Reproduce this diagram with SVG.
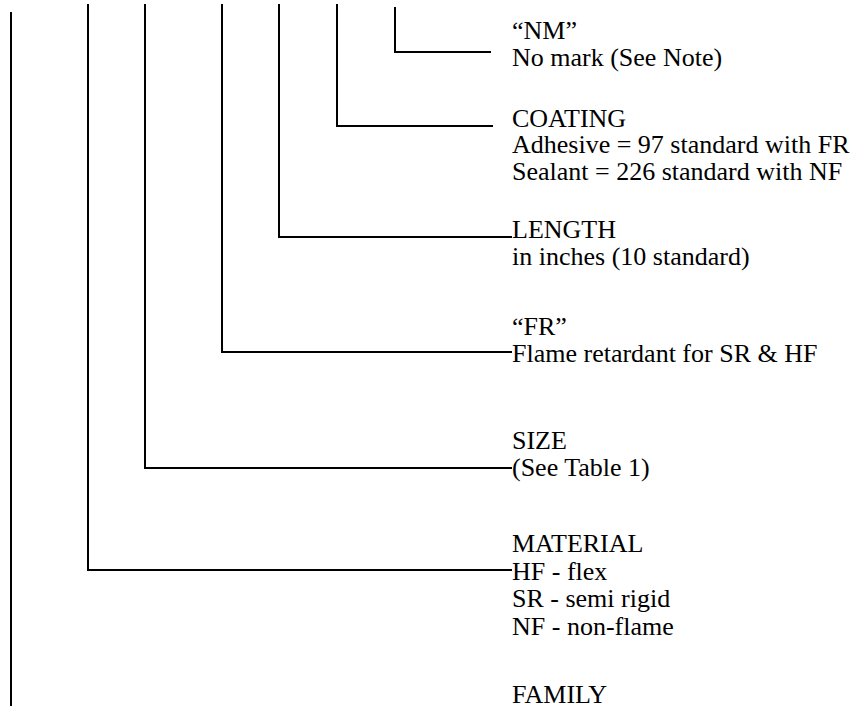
<svg xmlns="http://www.w3.org/2000/svg" width="856" height="706" viewBox="0 0 856 706">
<style>
.c{fill:none;stroke:#000;stroke-width:2}
.t{font-family:'Liberation Serif','Times New Roman','DejaVu Serif',serif;font-size:26px;fill:#000}
</style>
<rect width="856" height="706" fill="#fff"/>
<g id="connectors">
<path class="c" d="M11 12V706"/>
<path class="c" d="M88 4V570H512"/>
<path class="c" d="M145 4V468H512"/>
<path class="c" d="M222 4V352H512"/>
<path class="c" d="M279 4V237H512"/>
<path class="c" d="M337 4V126H493"/>
<path class="c" d="M395 7V52H491"/>
</g>
<g class="t" font-family="Liberation Serif, serif">
<g id="nm"><text x="512" y="39">“NM”</text><text x="512" y="66">No mark (See Note)</text></g>
<g id="coating"><text x="512" y="127">COATING</text><text x="512" y="153">Adhesive = 97 standard with FR</text><text x="512" y="180">Sealant = 226 standard with NF</text></g>
<g id="length"><text x="512" y="238">LENGTH</text><text x="512" y="265">in inches (10 standard)</text></g>
<g id="fr"><text x="512" y="335">“FR”</text><text x="512" y="362">Flame retardant for SR &amp; HF</text></g>
<g id="size"><text x="512" y="449">SIZE</text><text x="512" y="476">(See Table 1)</text></g>
<g id="material"><text x="512" y="552">MATERIAL</text><text x="512" y="580">HF - flex</text><text x="512" y="607">SR - semi rigid</text><text x="512" y="635">NF - non-flame</text></g>
<g id="family"><text x="512" y="703">FAMILY</text></g>
</g>
</svg>
